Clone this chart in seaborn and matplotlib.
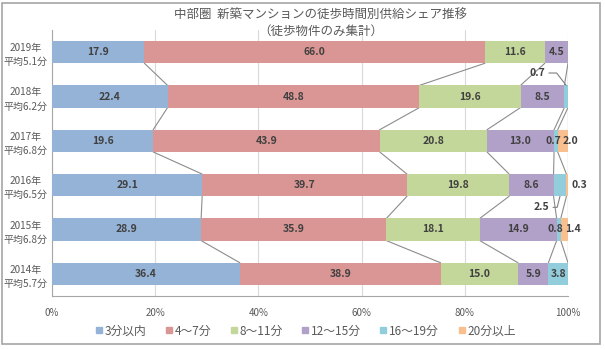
import numpy as np
import pandas as pd
import matplotlib
matplotlib.use("Agg")
import matplotlib.pyplot as plt
from matplotlib.patches import Rectangle
from matplotlib.lines import Line2D
import seaborn as sns

# ============= データ =============
years = ["2019年", "2018年", "2017年", "2016年", "2015年", "2014年"]
avg_minutes = ["5.1", "6.2", "6.8", "6.5", "6.8", "5.7"]
categories = ["3分以内", "4～7分", "8～11分", "12～15分", "16～19分", "20分以上"]

within_3 = [17.9, 22.4, 19.6, 29.1, 28.9, 36.4]
min_4_7 = [66.0, 48.8, 43.9, 39.7, 35.9, 38.9]
min_8_11 = [11.6, 19.6, 20.8, 19.8, 18.1, 15.0]
min_12_15 = [4.5, 8.5, 13.0, 8.6, 14.9, 5.9]
min_16_19 = [0.0, 0.7, 0.7, 2.5, 0.8, 3.8]
over_20 = [0.0, 0.0, 2.0, 0.3, 1.4, 0.0]

colors = ["#95B3D7", "#DA9694", "#C4D79B", "#B1A0C7", "#92CDDC", "#FABF8F"]

row_labels = [f"{y}\n平均{a}分" for y, a in zip(years, avg_minutes)]
df = pd.DataFrame(
    {c: v for c, v in zip(categories, [within_3, min_4_7, min_8_11, min_12_15, min_16_19, over_20])},
    index=row_labels,
)
cum = df.cumsum(axis=1)

# ============= 描画 =============
sns.set_theme(style="white")
plt.rcParams['font.family'] = ['Noto Sans CJK JP', 'DejaVu Sans']

fig = plt.figure(figsize=(6.05, 3.5), dpi=100)
ax = fig.add_axes([52 / 605, 54 / 350, 516 / 605, 266 / 350])

# 積み上げ：累積値の大きい方から重ねて描く
for k in reversed(range(len(categories))):
    sns.barplot(x=cum[categories[k]].values, y=row_labels, orient="h",
                color=colors[k], saturation=1, width=0.5, linewidth=0,
                ax=ax, zorder=3)

ax.set_xlim(0, 100)
ax.set_ylim(5.5, -0.5)

# 区分線（系列線）
bar_h = 0.25
for i in range(len(row_labels) - 1):
    for k in range(len(categories)):
        ax.plot([cum.iloc[i, k], cum.iloc[i + 1, k]], [i + bar_h, i + 1 - bar_h],
                color="#8C8C8C", lw=0.8, zorder=2)

# データラベル
txt_kw = dict(fontsize=7.5, fontweight="bold", color="#404040", ha="center",
              va="center", zorder=5, clip_on=False)
special = {
    (1, 4): (94.0, 0.47),
    (2, 4): (97.1, 2.0), (2, 5): (100.4, 2.0),
    (3, 4): (94.8, 3.5), (3, 5): (102.2, 3.0),
    (4, 4): (97.6, 4.0), (4, 5): (100.9, 4.0),
}
# 引出線
leader_paths = {
    (1, 4): ([96.3, 97.8, 99.65], [0.47, 0.47, 0.75]),
    (3, 4): ([97.1, 97.9, 98.45], [3.5, 3.5, 3.25]),
}
for i in range(len(row_labels)):
    for k in range(len(categories)):
        v = df.iloc[i, k]
        if v <= 0:
            continue
        x, y = special.get((i, k), (cum.iloc[i, k] - v / 2, i))
        ax.text(x, y, f"{v:.1f}", **txt_kw)
        if (i, k) in leader_paths:
            lx, ly = leader_paths[(i, k)]
            ax.plot(lx, ly, color="#808080", lw=0.8, zorder=4, clip_on=False)

# 軸まわり
ax.set_xticks(np.arange(0, 101, 20))
ax.set_xticklabels([f"{t}%" for t in range(0, 101, 20)], fontsize=7, color="#595959")
ax.tick_params(axis="x", length=3, color="#A6A6A6", pad=6)
ax.tick_params(axis="y", length=0, pad=3)
for lbl in ax.get_yticklabels():
    lbl.set_fontsize(7.2)
    lbl.set_color("#595959")
    lbl.set_multialignment("center")
    lbl.set_linespacing(1.5)
ax.xaxis.grid(True, color="#D9D9D9", lw=0.8, zorder=0)
ax.set_axisbelow(True)
for s in ["top", "right"]:
    ax.spines[s].set_visible(False)
for s in ["left", "bottom"]:
    ax.spines[s].set_color("#A6A6A6")
    ax.spines[s].set_linewidth(0.8)
ax.set_xlabel("")
ax.set_ylabel("")

# タイトル
fig.text(0.53, 1 - 15 / 350, "中部圏  新築マンションの徒歩時間別供給シェア推移",
         ha="center", va="center", fontsize=9, color="#595959")
fig.text(0.53, 1 - 31 / 350, "（徒歩物件のみ集計）",
         ha="center", va="center", fontsize=9, color="#595959")

# 凡例
handles = [Line2D([], [], marker="s", ls="", markersize=5, color=c) for c in colors]
fig.legend(handles, categories, loc="center", bbox_to_anchor=(0.505, 1 - 331 / 350),
           ncol=6, frameon=False, fontsize=8.5, handlelength=0.6, handletextpad=0.2,
           columnspacing=1.6, labelcolor="#595959")

# 外枠
fig.add_artist(Rectangle((2 / 605, 6 / 350), 598 / 605, 341 / 350, transform=fig.transFigure,
                         fill=False, edgecolor="#A6A6A6", lw=1.2))

fig.savefig("out.png", dpi=100)
